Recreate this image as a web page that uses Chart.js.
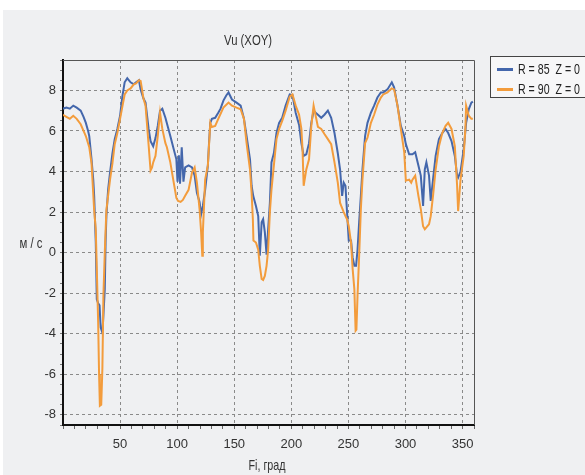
<!DOCTYPE html>
<html>
<head>
<meta charset="utf-8">
<script src="https://cdn.jsdelivr.net/npm/chart.js@4.4.1/dist/chart.umd.min.js"></script>
<style>
  html, body { margin: 0; padding: 0; background: #fff; }
</style>
</head>
<body>
<canvas id="myChart" width="585" height="475"></canvas>
<script>
// Vu in the XOY plane, two radii, sampled over the angle Fi (deg)
const angles85 = [0, 3, 6, 9, 12, 15.5, 18, 20, 22, 23, 25, 26.5, 27.3, 28.7, 29.6, 30.8, 32, 33, 34.5, 35.4,
  36.6, 37.3, 38, 39.5, 41.2, 43.3, 45.3, 47.6, 50, 52, 54, 56.3, 59.2, 62, 64, 66.5, 68, 70.5, 72.3, 75,
  76.7, 79, 81, 83, 85, 87, 89.7, 94, 97, 99.3, 100.3, 101.5, 102.5, 104, 105.5, 107, 110, 113, 115.3, 117.3,
  119.6, 121, 122.5, 124.5, 126.9, 128, 129, 130.4, 133.3, 136, 138, 140.5, 143, 145, 148, 152, 155.6, 158.5, 160.8, 163.8,
  165.2, 166.6, 169, 171, 172.4, 174, 175.3, 176.8, 178.3, 179.7, 181.2, 182.6, 184.7, 187, 189.3, 192, 195, 198.6, 201, 203.8,
  206.8, 208.8, 210.8, 213.1, 215.5, 217.5, 219.5, 221.3, 223.3, 226.2, 229, 232, 234.9, 237.8, 240.7, 242.7, 244.5, 245.9, 247.4, 248.8,
  250.3, 252.3, 253.7, 255.2, 256.7, 258, 259.4, 260.9, 262.3, 264.6, 266.7, 269.7, 272.5, 275.4, 278.4, 280.5, 284.2, 288, 290, 293,
  295.9, 298.9, 300.3, 303.2, 306.1, 308.5, 311.3, 313.4, 315.4, 316.9, 318.3, 320.6, 322.1, 324.1, 326.4, 329.3, 332.2, 335.1, 337.4, 340.3,
  343.2, 345.2, 346.1, 348.2, 351, 353.1, 355.4, 357.7, 359];
const vu85 = [7.1, 7.15, 7.1, 7.25, 7.15, 7.0, 6.7, 6.4, 6.0, 5.75, 4.6, 3.6, 2.8, 0.5, -2.3, -2.5, -2.6, -3.7, -3.95, -3.1,
  -1.8, 0.5, 1.8, 3.1, 3.95, 4.9, 5.6, 6.1, 6.75, 7.7, 8.4, 8.6, 8.4, 8.3, 8.4, 8.5, 8.05, 7.6, 7.4, 6.1,
  5.5, 5.25, 5.65, 6.25, 7.0, 7.1, 6.65, 5.75, 5.1, 4.6, 3.5, 4.8, 3.4, 5.2, 3.5, 4.2, 4.3, 4.2, 3.8, 2.95,
  2.5, 1.9, 2.3, 3.1, 4.3, 5.5, 6.4, 6.6, 6.65, 6.9, 7.1, 7.5, 7.75, 7.9, 7.55, 7.4, 7.25, 6.6, 5.75, 4.6,
  3.3, 2.8, 2.3, 1.8, -0.15, 1.5, 1.65, 1.0, -0.1, 1.15, 2.45, 4.45, 4.9, 5.9, 6.4, 6.65, 7.25, 7.8, 7.77, 6.9,
  6.3, 5.4, 4.77, 4.85, 5.4, 6.4, 7.0, 6.9, 6.8, 6.65, 6.8, 7.0, 6.65, 5.9, 4.9, 4.1, 2.8, 3.45, 3.3, 2.0,
  0.6, 0.6, -0.25, -0.65, -0.65, 0.15, 1.5, 2.8, 4.1, 5.75, 6.4, 6.9, 7.25, 7.65, 7.9, 7.9, 8.05, 8.4, 8.15, 7.25,
  6.25, 5.75, 5.35, 4.85, 4.85, 4.95, 4.3, 3.8, 2.3, 4.1, 4.45, 3.8, 2.55, 3.6, 4.77, 5.6, 5.9, 6.1, 5.9, 5.5,
  4.77, 3.8, 3.7, 4.0, 5.1, 6.4, 7.07, 7.4, 7.45];

const angles90 = [0, 3, 6, 9, 12, 15.5, 18, 20, 23, 25, 27.3, 28.7, 29.6, 30.8, 31.6, 32.3, 33.5, 34.5, 35.4, 36.6,
  38, 39.5, 41.2, 43.3, 45.3, 47.6, 50, 52, 54, 56.3, 59.2, 62, 64, 66.5, 68, 70.5, 72.3, 75, 76.7, 78,
  79, 81, 83, 85, 87, 89.7, 91, 94, 97, 99.3, 100.8, 103, 105, 107, 110, 113, 115.3, 117.3, 119.6, 121,
  122, 122.5, 124.5, 126.9, 129, 130.4, 133.3, 136, 140.5, 145, 148, 152, 155.6, 158.5, 160.8, 163.8, 165.2, 166.3, 166.8, 169,
  171, 172.4, 174, 175.3, 176.8, 178.3, 179.7, 181.2, 182.6, 184.7, 187, 189.3, 192, 195, 198.6, 201, 203.8, 206.8, 208.8, 209.8,
  210.8, 213.1, 215.5, 217.5, 219.5, 221.3, 223.3, 226.2, 229, 232, 234.9, 237.8, 240.7, 242.7, 244.5, 245.9, 247.4, 248.8, 250.3, 252.3,
  253.7, 255.2, 256.3, 257, 258, 259.4, 260.9, 262.3, 264.6, 266.7, 269.7, 272.5, 275.4, 278.4, 280.5, 284.2, 288, 290, 293, 295.9,
  298.9, 300.3, 303.2, 305, 306.1, 308.5, 311.3, 313.4, 315.4, 316.9, 318.3, 320.6, 322.1, 324.1, 326.4, 329.3, 332.2, 335.1, 337.4, 340.3,
  343.2, 345.2, 346.1, 348.2, 351, 352.5, 353.1, 355.4, 357.7, 359];
const vu90 = [6.8, 6.7, 6.6, 6.75, 6.6, 6.33, 6.0, 5.75, 5.2, 4.4, 2.1, 1.15, -0.8, -3.45, -6.0, -7.55, -7.5, -5.7, -2.1, 0.0,
  2.1, 2.8, 3.6, 4.4, 5.35, 5.9, 6.6, 7.2, 7.8, 8.0, 8.1, 8.3, 8.35, 8.5, 8.47, 7.6, 7.25, 5.3, 4.05, 4.2,
  4.45, 4.77, 5.75, 6.9, 6.1, 5.4, 5.2, 4.45, 3.45, 2.7, 2.55, 2.5, 2.6, 2.8, 3.1, 3.95, 4.2, 3.45, 2.15, 1.0,
  -0.15, 1.0, 3.6, 4.3, 6.4, 6.2, 6.25, 6.6, 7.15, 7.4, 7.25, 7.15, 7.07, 6.6, 5.4, 4.1, 2.95, 1.65, 0.6, 0.5,
  0.15, -0.65, -1.3, -1.35, -1.15, -0.65, 0.15, 2.0, 3.1, 4.3, 5.6, 6.1, 6.5, 7.0, 7.7, 7.8, 7.25, 6.8, 6.1, 5.1,
  3.3, 4.1, 4.6, 6.25, 7.25, 6.75, 6.2, 6.1, 5.85, 5.6, 5.35, 4.45, 3.45, 2.45, 2.2, 2.0, 1.8, 1.65, 1.3, 0.5,
  -0.8, -1.8, -3.85, -3.8, -2.1, -0.15, 2.15, 3.6, 5.4, 5.67, 6.4, 6.8, 7.3, 7.65, 7.8, 7.9, 8.1, 8.05, 7.25, 6.1,
  4.95, 3.55, 3.6, 3.45, 3.6, 3.8, 2.8, 2.15, 1.3, 1.15, 1.25, 1.4, 1.8, 2.8, 4.1, 5.25, 5.9, 6.25, 6.4, 6.1,
  5.25, 3.3, 2.05, 3.6, 4.77, 6.2, 7.25, 6.75, 6.6, 6.6];

const seriesNames = ['R = 85  Z = 0', 'R = 90  Z = 0'];
const seriesColors = ['#4467ac', '#f39c3c'];

const FONT = '"Liberation Sans", Arial, sans-serif';
Chart.defaults.font.family = FONT;
Chart.defaults.font.size = 12;
Chart.defaults.color = '#333';

function toPoints(xs, ys) {
    return xs.map((x, i) => ({ x: x, y: ys[i] }));
}

const isMajorX = v => Math.abs(v % 50) < 1e-6 && v > 0 && v < 360;
const isMajorY = v => Math.abs(v % 2) < 1e-6;

// narrow captions: squeeze the text to a given width
function caption(ctx, text, x, y, size, width, align) {
    ctx.font = size + 'px ' + FONT;
    ctx.textAlign = align || 'center';
    ctx.textBaseline = 'middle';
    ctx.fillText(text, x, y, width);
}

// background, frame, captions and legend box
const decor = {
    id: 'decor',
    beforeDraw(chart) {
        const { ctx, width, height } = chart;
        ctx.save();
        ctx.fillStyle = '#ffffff';
        ctx.fillRect(0, 0, width, height);
        ctx.fillStyle = '#eff0f2';
        ctx.fillRect(3, 10, width - 3, height - 10);
        ctx.restore();
    },
    afterDraw(chart) {
        const { ctx, chartArea: a } = chart;
        ctx.save();
        ctx.strokeStyle = '#555';
        ctx.lineWidth = 1;
        ctx.beginPath();
        ctx.moveTo(a.left, a.top + 0.5);
        ctx.lineTo(a.right + 0.5, a.top + 0.5);
        ctx.lineTo(a.right + 0.5, a.bottom);
        ctx.stroke();

        ctx.fillStyle = '#333';
        caption(ctx, 'Vu (XOY)', 248, 41, 15, 48);
        caption(ctx, 'м / с', 31, 244, 14, 23);
        caption(ctx, 'Fi, град', 267, 466, 15, 37);

        // legend
        ctx.fillStyle = '#f7f7f8';
        ctx.fillRect(490.5, 56.5, 100, 41);
        ctx.strokeStyle = '#444';
        ctx.strokeRect(490.5, 56.5, 100, 41);
        for (let i = 0; i < seriesNames.length; i++) {
            const y = 69.5 + i * 20;
            ctx.strokeStyle = seriesColors[i];
            ctx.lineWidth = 3;
            ctx.beginPath();
            ctx.moveTo(497, y);
            ctx.lineTo(513, y);
            ctx.stroke();
            ctx.fillStyle = '#222';
            caption(ctx, seriesNames[i], 518, y, 15, 62, 'left');
        }
        ctx.restore();
    }
};

const myChart = new Chart(document.getElementById('myChart'), {
    type: 'line',
    data: {
        datasets: [
            {
                label: seriesNames[0],
                data: toPoints(angles85, vu85),
                borderColor: seriesColors[0],
                borderWidth: 2,
                pointRadius: 0,
                tension: 0,
                order: 1
            },
            {
                label: seriesNames[1],
                data: toPoints(angles90, vu90),
                borderColor: seriesColors[1],
                borderWidth: 2,
                pointRadius: 0,
                tension: 0,
                order: 0
            }
        ]
    },
    options: {
        responsive: false,
        animation: false,
        devicePixelRatio: 1,
        layout: { padding: { top: 60, right: 111, left: 0, bottom: 0 } },
        plugins: {
            legend: { display: false },
            tooltip: { enabled: false }
        },
        scales: {
            x: {
                type: 'linear',
                min: 0,
                max: 360,
                afterFit: s => { s.height = 50; },
                ticks: {
                    stepSize: 10,
                    autoSkip: false,
                    maxRotation: 0,
                    padding: 8,
                    color: '#333',
                    font: { size: 13 },
                    callback: v => isMajorX(v) ? v : ''
                },
                grid: {
                    color: c => isMajorX(c.tick.value) ? '#8a8a8a' : 'rgba(0,0,0,0)',
                    tickColor: '#666',
                    tickLength: 4,
                    lineWidth: 1
                },
                border: { color: '#111', width: 2, dash: [3, 3] }
            },
            y: {
                min: -8.5,
                max: 9.5,
                afterFit: s => { s.width = 63; },
                ticks: {
                    stepSize: 0.5,
                    autoSkip: false,
                    padding: 4,
                    color: '#333',
                    font: { size: 13 },
                    callback: v => isMajorY(v) ? v : ''
                },
                grid: {
                    color: c => isMajorY(c.tick.value) ? '#8a8a8a' : 'rgba(0,0,0,0)',
                    tickColor: '#777',
                    tickLength: 3,
                    lineWidth: 1
                },
                border: { color: '#111', width: 2, dash: [3, 3] }
            }
        }
    },
    plugins: [decor]
});
</script>
</body>
</html>
